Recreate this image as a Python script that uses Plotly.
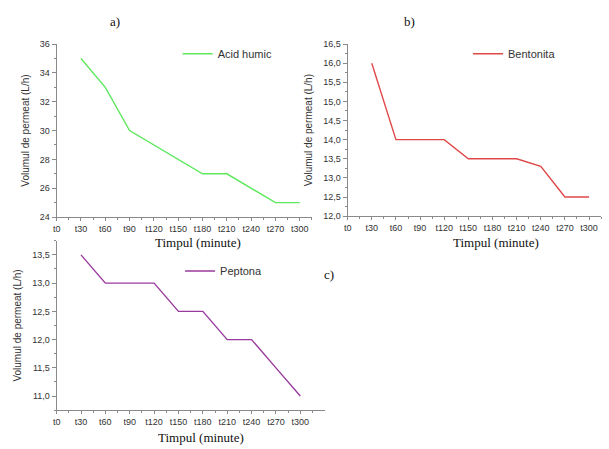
import plotly.graph_objects as go

# time points (minutes) and permeate volume readings (L/h)
minutes = [30, 60, 90, 120, 150, 180, 210, 240, 270, 300]
acid_humic = [35, 33, 30, 29, 28, 27, 27, 26, 25, 25]
bentonita = [16.0, 14.0, 14.0, 14.0, 13.5, 13.5, 13.5, 13.3, 12.5, 12.5]
peptona = [13.5, 13.0, 13.0, 13.0, 12.5, 12.5, 12.0, 12.0, 11.5, 11.0]

tick_minutes = [0, 30, 60, 90, 120, 150, 180, 210, 240, 270, 300]
tick_labels = ["t%d" % m for m in tick_minutes]
minor_minutes = [15, 45, 75, 105, 135, 165, 195, 225, 255, 285, 315]

panel_letters = ["a)", "b)", "c)"]
x_title = "Timpul (minute)"
y_title = "Volumul de permeat (L/h)"

SANS = "Liberation Sans"
SERIF = "Liberation Serif"
AXIS_GRAY = "#8a8a8a"
TEXT = "#333333"
W, H = 609, 449

fig = go.Figure()

fig.add_trace(go.Scatter(x=minutes, y=acid_humic, mode="lines", name="Acid humic",
                         line=dict(color="#5ee85e", width=1.4), xaxis="x", yaxis="y",
                         legend="legend"))
fig.add_trace(go.Scatter(x=minutes, y=bentonita, mode="lines", name="Bentonita",
                         line=dict(color="#e04848", width=1.4), xaxis="x2", yaxis="y2",
                         legend="legend2"))
fig.add_trace(go.Scatter(x=minutes, y=peptona, mode="lines", name="Peptona",
                         line=dict(color="#9a3a9e", width=1.4), xaxis="x3", yaxis="y3",
                         legend="legend3"))


def xaxis(domain, anchor, rng):
    return dict(
        domain=domain, anchor=anchor, range=rng,
        tickmode="array", tickvals=tick_minutes, ticktext=tick_labels,
        ticks="outside", ticklen=3, tickcolor=AXIS_GRAY, tickwidth=1,
        minor=dict(tickmode="array", tickvals=minor_minutes, ticks="outside",
                   ticklen=2, tickcolor=AXIS_GRAY),
        showline=True, linecolor=AXIS_GRAY, linewidth=1,
        showgrid=False, zeroline=False,
        tickfont=dict(family=SANS, size=9, color=TEXT),
    )


def yaxis(domain, anchor, rng, dtick, minor_dtick, fmt):
    return dict(
        domain=domain, anchor=anchor, range=rng,
        tickmode="linear", tick0=0, dtick=dtick, tickformat=fmt,
        ticks="outside", ticklen=4, tickcolor=AXIS_GRAY, tickwidth=1,
        minor=dict(dtick=minor_dtick, ticks="outside", ticklen=2, tickcolor=AXIS_GRAY),
        showline=True, linecolor=AXIS_GRAY, linewidth=1,
        showgrid=False, zeroline=False,
        tickfont=dict(family=SANS, size=9, color=TEXT),
        title=dict(text=y_title, font=dict(family=SANS, size=10, color=TEXT),
                   standoff=8),
    )


legend_style = dict(bgcolor="rgba(0,0,0,0)", font=dict(family=SANS, size=11, color=TEXT),
                    xanchor="left", yanchor="top", itemwidth=30)

fig.update_layout(
    width=W, height=H,
    margin=dict(l=0, r=0, t=0, b=0),
    paper_bgcolor="white", plot_bgcolor="white",
    separators=", ",
    xaxis=xaxis([0.087, 0.509], "y", [0, 315]),
    yaxis=yaxis([0.517, 0.911], "x", [24, 36], 2, 1, "d"),
    xaxis2=xaxis([0.568, 0.987], "y2", [0, 315]),
    yaxis2=yaxis([0.519, 0.911], "x2", [12, 16.5], 0.5, 0.25, ".1f"),
    xaxis3=xaxis([0.087, 0.530], "y3", [0, 330]),
    yaxis3=yaxis([0.077, 0.463], "x3", [10.75, 13.75], 0.5, 0.25, ".1f"),
    legend=dict(x=0.287, y=0.922, **legend_style),
    legend2=dict(x=0.767, y=0.922, **legend_style),
    legend3=dict(x=0.291, y=0.427, **legend_style),
    showlegend=True,
)

# panel letters
letter_pos = [(112, 17), (408, 17), (327, 276)]
for letter, (px, py) in zip(panel_letters, letter_pos):
    fig.add_annotation(text=letter, x=px / W, y=1 - py / H, xref="paper", yref="paper",
                       xanchor="center", yanchor="middle", showarrow=False,
                       font=dict(family=SERIF, size=13, color="#111111"))

# time-axis captions below each panel
caption_pos = [(195, 243), (495, 243), (198, 442)]
for px, py in caption_pos:
    fig.add_annotation(text=x_title, x=px / W, y=1 - py / H, xref="paper", yref="paper",
                       xanchor="center", yanchor="middle", showarrow=False,
                       font=dict(family=SERIF, size=13, color="#111111"))

fig.write_html("out.html")
